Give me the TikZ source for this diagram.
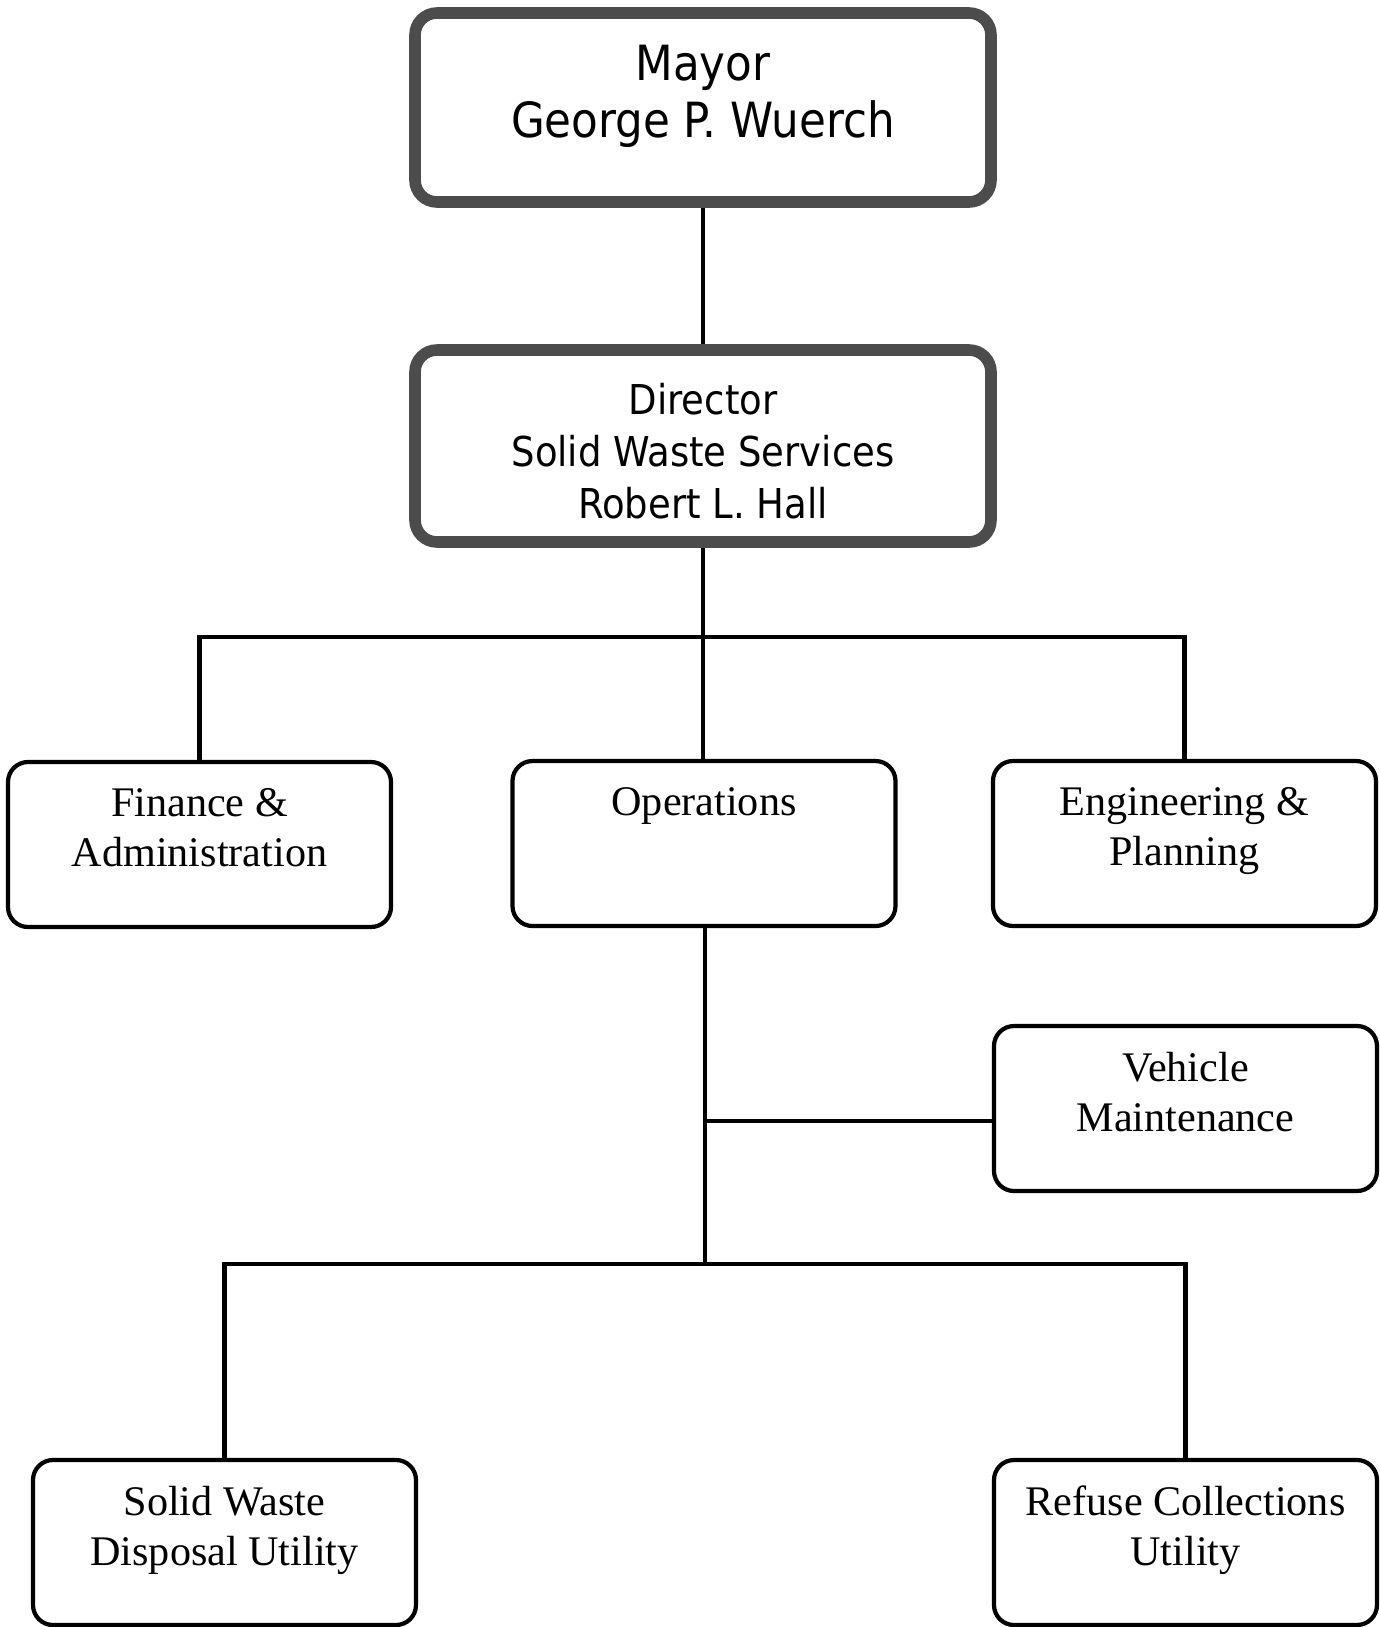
\documentclass[tikz,border=0pt]{standalone}
\usepackage{fontspec}
\setmainfont{Liberation Serif}
\newfontfamily\headfont{DejaVu Sans Condensed}
\usepackage{tikz}

\tikzset{
  head/.style={draw=black!70,line width=3.3pt,rounded corners=0.22cm,align=center,
    minimum width=5.76cm,font=\headfont},
  unit/.style={draw,line width=1.2pt,rounded corners=0.2cm,align=center,
    minimum width=3.83cm,minimum height=1.65cm,
    font=\fontsize{12}{14.2}\selectfont},
  link/.style={line width=1.2pt}
}

\begin{document}
\begin{tikzpicture}
\useasboundingbox (0,0) rectangle (13.8,-16.27) ;

\node[head,minimum height=1.89cm,font=\headfont\fontsize{13.8}{16.2}\selectfont] (mayor) at (7.03,-1.075) {Mayor\\George P. Wuerch\\[-12pt]\strut} ;
\node[head,minimum height=1.92cm,font=\headfont\fontsize{11.7}{14.8}\selectfont] (dir) at (7.03,-4.46) {\rule{0pt}{12pt}Director\\Solid Waste Services\\Robert L. Hall} ;

\node[unit] (fin) at (1.995,-8.445) {Finance \&\\Administration\\[-9pt]\strut} ;
\node[unit] (ops) at (7.04,-8.435) {Operations\\\strut\\[-9pt]\strut} ;
\node[unit] (eng) at (11.845,-8.435) {Engineering \&\\Planning\\[-9pt]\strut} ;
\node[unit] (veh) at (11.855,-11.085) {Vehicle\\Maintenance\\[-9pt]\strut} ;
\node[unit] (sol) at (2.245,-15.425) {Solid Waste\\Disposal Utility\\[-9pt]\strut} ;
\node[unit] (ref) at (11.855,-15.425) {Refuse Collections\\Utility\\[-9pt]\strut} ;

\coordinate (bar1) at (7.03,-6.37) ;
\coordinate (tap) at (7.05,-11.21) ;
\coordinate (bar2) at (7.05,-12.64) ;

\draw[link] (mayor) -- (dir) ;
\draw[link] (dir.south) -- (dir.south |- ops.north) ;
\draw[link] (fin.north) |- (bar1) -| (eng.north) ;
\draw[link] (ops.south -| bar2) -- (bar2) ;
\draw[link] (tap) -- (tap -| veh.west) ;
\draw[link] (sol.north) |- (bar2) -| (ref.north) ;

\end{tikzpicture}
\end{document}
